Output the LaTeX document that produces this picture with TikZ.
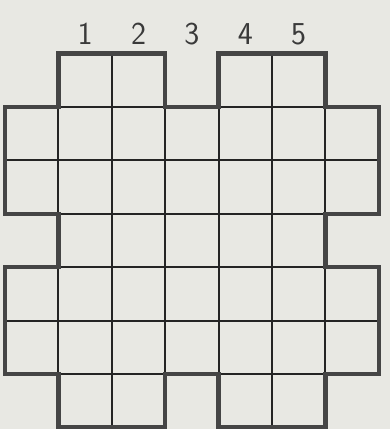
\documentclass[tikz,border=0pt]{standalone}
\usepackage{tikz}
\definecolor{paper}{rgb}{0.91,0.91,0.89}
\definecolor{ink}{rgb}{0.14,0.14,0.14}
\tikzset{
  cellgrid/.style={
    draw=ink,
    line width=1pt
  },
  rim/.style={
    draw=ink!85,
    line width=2.4pt,
    line join=miter
  },
  colnum/.style={
    font=\sffamily\fontsize{17}{17}\selectfont,
    text=ink!90,
    inner sep=0pt
  }
}
\newcommand\rimpath{(1,7) -- (3,7) -- (3,6) -- (4,6) -- (4,7) -- (6,7) -- (6,6) -- (7,6)
  -- (7,4) -- (6,4) -- (6,3) -- (7,3) -- (7,1) -- (6,1) -- (6,0) -- (4,0) -- (4,1)
  -- (3,1) -- (3,0) -- (1,0) -- (1,1) -- (0,1) -- (0,3) -- (1,3) -- (1,4) -- (0,4)
  -- (0,6) -- (1,6) -- cycle}

\begin{document}
\begin{tikzpicture}
\fill[paper] (-0.094,-0.03) rectangle (7.21,8.004);
\useasboundingbox (-0.094,-0.03) rectangle (7.21,8.004);
\clip (-0.094,-0.03) rectangle (7.21,8.004);
% grid inside the board
\begin{scope}
  \clip \rimpath;
  \draw[cellgrid] (0,0) grid (7,7);
\end{scope}
\draw[rim] \rimpath;
% column numbers
\foreach \i in {1,...,5}
  \node[colnum] (n\i) at (\i+0.5,7.37) {\i};
\end{tikzpicture}
\end{document}
